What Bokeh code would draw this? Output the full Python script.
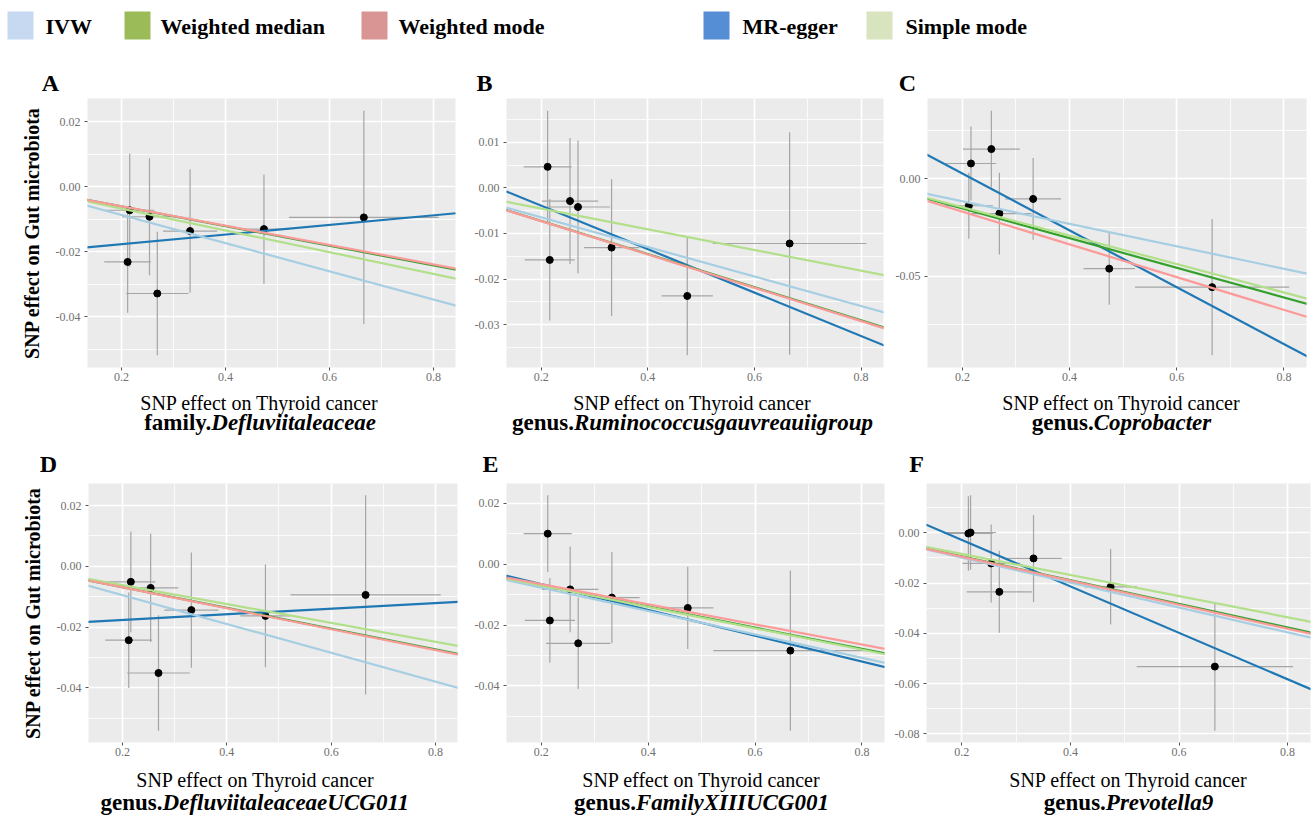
import numpy as np
from bokeh.plotting import figure
from bokeh.models import Range1d, FixedTicker, Slope, PrintfTickFormatter
from bokeh.layouts import column, row
from bokeh.embed import file_html
from bokeh.resources import INLINE
from bokeh.core.properties import value

# ---------------- data ----------------
methods = ["IVW", "Weighted median", "Weighted mode", "MR-egger", "Simple mode"]
legend_colors = ["#c6d9f1", "#9bbb59", "#d99594", "#558ed5", "#d7e4bd"]
line_colors = ["#a6cee3", "#33a02c", "#fb9a99", "#1f78b4", "#b2df8a"]

panel_letters = ["A", "B", "C", "D", "E", "F"]
taxon_rank = ["family.", "genus.", "genus.", "genus.", "genus.", "genus."]
taxon_name = ["Defluviitaleaceae", "Ruminococcusgauvreauiigroup", "Coprobacter",
              "DefluviitaleaceaeUCG011", "FamilyXIIIUCG001", "Prevotella9"]
x_title = "SNP effect on Thyroid cancer"
y_title = "SNP effect on Gut microbiota"

# SNP effects on exposure (shared by all panels)
beta_exp = [0.212, 0.216, 0.254, 0.269, 0.332, 0.474, 0.666]
se_exp = [0.045, 0.047, 0.053, 0.060, 0.052, 0.048, 0.144]

# SNP effects on outcome per panel
beta_out_A = [-0.0231, -0.0072, -0.0092, -0.0328, -0.0136, -0.0130, -0.0094]
se_out_A = [0.0156, 0.0174, 0.0180, 0.0190, 0.0190, 0.0168, 0.0328]
beta_out_B = [0.0046, -0.0158, -0.0029, -0.0042, -0.0131, -0.0237, -0.0122]
se_out_B = [0.0123, 0.0133, 0.0138, 0.0146, 0.0150, 0.0130, 0.0244]
beta_out_C = [-0.0138, 0.0079, 0.0153, -0.0178, -0.0103, -0.0461, -0.0556]
se_out_C = [0.0170, 0.0190, 0.0197, 0.0210, 0.0210, 0.0185, 0.0350]
beta_out_D = [-0.0243, -0.0051, -0.0071, -0.0351, -0.0144, -0.0163, -0.0094]
se_out_D = [0.0157, 0.0166, 0.0178, 0.0190, 0.0190, 0.0169, 0.0328]
beta_out_E = [0.0100, -0.0185, -0.0083, -0.0260, -0.0110, -0.0144, -0.0284]
se_out_E = [0.0126, 0.0139, 0.0141, 0.0150, 0.0150, 0.0135, 0.0263]
beta_out_F = [-0.0003, 0.0001, -0.0122, -0.0235, -0.0102, -0.0215, -0.0532]
se_out_F = [0.0148, 0.0148, 0.0155, 0.0163, 0.0173, 0.0150, 0.0255]

# MR slopes per panel, order = methods (IVW, WM, Wmode, Egger, SM)
slopes_A = [-0.0433, -0.0302, -0.0298, 0.0148, -0.0335]
slopes_B = [-0.0324, -0.0363, -0.0365, -0.0476, -0.0227]
slopes_C = [-0.0577, -0.0761, -0.0841, -0.1459, -0.0729]
slopes_D = [-0.0474, -0.0342, -0.0345, 0.0093, -0.0310]
slopes_E = [-0.0385, -0.0348, -0.0330, -0.0424, -0.0351]
slopes_F = [-0.0495, -0.0471, -0.0477, -0.0923, -0.0420]
egger_intercepts = [-0.0206, 0.0056, 0.0319, -0.0195, 0.0019, 0.0156]

x_ticks = [0.2, 0.4, 0.6, 0.8]
x_minor = [0.1, 0.3, 0.5, 0.7, 0.9]

panels_beta = [beta_out_A, beta_out_B, beta_out_C, beta_out_D, beta_out_E, beta_out_F]
panels_se = [se_out_A, se_out_B, se_out_C, se_out_D, se_out_E, se_out_F]
panels_slopes = [slopes_A, slopes_B, slopes_C, slopes_D, slopes_E, slopes_F]

# ---------------- layout ----------------
W = 1312
y_step = [0.02, 0.01, 0.05, 0.02, 0.02, 0.02]
row_top_h = 294      # page y 97 .. 391
row_bot_h = 287      # page y 478 .. 765
panel_w = [465, 425, 422, 465, 425, 422]
panel_border = [(87, 10, 0, 18), (41, 7, 1, 24), (37, 6, 0, 24),
                (88, 8, 0, 20), (41, 6, 5, 20), (36, 2, 2, 23)]

strip_legend = (0, 60)
strip_letters_top = (60, 97)
strip_titles_top = (391, 445)
strip_letters_bot = (445, 478)
strip_titles_bot = (765, 822)

letter_x = [50, 484, 907, 48, 490, 916]
letter_base = [91, 91, 91, 472, 472, 472]
title_cx = [259, 692, 1121, 255, 701, 1128]
title_base = [409.5, 409.5, 409.5, 787, 787, 787]
sub_base = [430, 430, 430, 810, 810, 810]
legend_base = 34

SERIF = "Liberation Serif"
TICKFONT = "Liberation Sans Narrow"
SUB_SIZE = 23
BASE_SHIFT = 0.36   # compensation of the rendered baseline offset (fraction of font size)

bold_w = dict(a=500, b=556, c=444, d=556, e=444, f=333, g=500, h=556, i=278, j=333, k=556,
              l=278, m=833, n=556, o=500, p=556, q=556, r=444, s=389, t=333, u=556, v=500,
              w=722, x=500, y=500, z=444)
bold_w["."] = 250
bi_w = dict(A=667, B=667, C=667, D=722, E=667, F=667, G=722, H=778, I=389, J=500, K=667,
            L=611, M=889, N=722, O=722, P=611, Q=722, R=667, S=556, T=611, U=722, V=667,
            W=889, X=667, Y=611, Z=611, a=500, b=500, c=444, d=500, e=444, f=333, g=500,
            h=556, i=278, j=278, k=500, l=278, m=778, n=556, o=500, p=500, q=500, r=389,
            s=389, t=278, u=556, v=444, w=667, x=500, y=444, z=389)
for dgt in "0123456789":
    bi_w[dgt] = 500


def text_width(s, table, size):
    return sum(table.get(ch, 500) for ch in s) * size / 1000.0


def gy(base, size):
    return base - BASE_SHIFT * size


def strip(y0, y1):
    p = figure(width=W, height=y1 - y0, x_range=Range1d(0, W), y_range=Range1d(y1, y0),
               output_backend="svg", toolbar_location=None, tools="", min_border=0,
               x_axis_location=None, y_axis_location=None)
    p.grid.visible = False
    p.outline_line_color = None
    p.background_fill_color = "white"
    p.border_fill_color = "white"
    return p


def make_panel(i):
    w = panel_w[i]
    h = row_top_h if i < 3 else row_bot_h
    bl, br, bt, bb = panel_border[i]
    bx = np.array(beta_exp)
    sx = np.array(se_exp)
    by = np.array(panels_beta[i])
    sy = np.array(panels_se[i])

    xlo, xhi = (bx - sx).min(), (bx + sx).max()
    ylo, yhi = (by - sy).min(), (by + sy).max()
    xpad, ypad = 0.05 * (xhi - xlo), 0.05 * (yhi - ylo)
    xr = Range1d(xlo - xpad, xhi + xpad)
    yr = Range1d(ylo - ypad, yhi + ypad)

    p = figure(width=w, height=h, x_range=xr, y_range=yr, output_backend="svg",
               toolbar_location=None, tools="",
               min_border_left=bl, min_border_right=br,
               min_border_top=bt, min_border_bottom=bb)
    p.background_fill_color = "#ebebeb"
    p.border_fill_color = "white"
    p.outline_line_color = None

    step = y_step[i]
    k0 = int(np.ceil((ylo - ypad) / step))
    k1 = int(np.floor((yhi + ypad) / step))
    yt = [float(np.round(k * step, 4)) + 0.0 for k in range(k0, k1 + 1)]
    ym = [float(np.round((k + 0.5) * step, 4)) + 0.0 for k in range(k0 - 1, k1 + 1)]
    p.yaxis.ticker = FixedTicker(ticks=yt, minor_ticks=ym)
    p.xaxis.ticker = FixedTicker(ticks=x_ticks, minor_ticks=x_minor)
    p.yaxis.formatter = PrintfTickFormatter(format="%.2f")
    p.xaxis.formatter = PrintfTickFormatter(format="%.1f")

    for g in (p.xgrid[0], p.ygrid[0]):
        g.grid_line_color = "white"
        g.grid_line_width = 1.7
        g.minor_grid_line_color = "white"
        g.minor_grid_line_width = 0.8
    for a in (p.xaxis[0], p.yaxis[0]):
        a.axis_line_color = None
        a.major_tick_line_color = "#555555"
        a.major_tick_in = 0
        a.major_tick_out = 3
        a.minor_tick_line_color = None
        a.major_label_text_font = TICKFONT
        a.major_label_text_font_size = "12px"
        a.major_label_text_color = "#707070"
    p.xaxis[0].major_label_standoff = 1
    p.yaxis[0].major_label_standoff = 3
    if i in (0, 3):
        ya = p.yaxis[0]
        ya.axis_label = y_title
        ya.axis_label_text_font = SERIF
        ya.axis_label_text_font_style = "bold"
        ya.axis_label_text_font_size = "20px"
        ya.axis_label_text_color = "black"
        ya.axis_label_standoff = 10

    # error bars
    p.segment(x0=bx, y0=by - sy, x1=bx, y1=by + sy, line_color="#a5a5a5", line_width=1.2)
    p.segment(x0=bx - sx, y0=by, x1=bx + sx, y1=by, line_color="#a5a5a5", line_width=1.2)
    p.scatter(x=bx, y=by, size=7, color="black")

    # MR lines (Egger has intercept), drawing order like TwoSampleMR
    slopes = panels_slopes[i]
    for m in [3, 1, 0, 4, 2]:
        icpt = egger_intercepts[i] if methods[m] == "MR-egger" else 0.0
        p.add_layout(Slope(gradient=slopes[m], y_intercept=icpt,
                           line_color=line_colors[m], line_width=2.2))
    return p


def add_letters(p, idx):
    p.text(x=[letter_x[i] for i in idx], y=[gy(letter_base[i], 24) for i in idx],
           text=[panel_letters[i] for i in idx], text_font=value(SERIF),
           text_font_style="bold", text_font_size="24px", text_align="center",
           text_baseline="alphabetic", text_color="black")


def add_titles(p, idx):
    p.text(x=[title_cx[i] for i in idx], y=[gy(title_base[i], 20) for i in idx],
           text=[x_title] * len(idx), text_font=value(SERIF), text_font_size="20px",
           text_align="center", text_baseline="alphabetic", text_color="black")
    splits = []
    for i in idx:
        wb = text_width(taxon_rank[i], bold_w, SUB_SIZE)
        wi = text_width(taxon_name[i], bi_w, SUB_SIZE)
        splits.append(title_cx[i] - (wb + wi) / 2.0 + wb)
    ys = [gy(sub_base[i], SUB_SIZE) for i in idx]
    p.text(x=splits, y=ys, text=[taxon_rank[i] for i in idx], text_font=value(SERIF),
           text_font_style="bold", text_font_size=f"{SUB_SIZE}px", text_align="right",
           text_baseline="alphabetic", text_color="black")
    p.text(x=splits, y=ys, text=[taxon_name[i] for i in idx], text_font=value(SERIF),
           text_font_style="bold italic", text_font_size=f"{SUB_SIZE}px", text_align="left",
           text_baseline="alphabetic", text_color="black")


# ---------------- legend ----------------
leg_sq_left = [7, 124, 361, 703, 866]
leg_txt_x = [45, 160, 398, 742, 905]
leg = strip(*strip_legend)
leg.quad(left=leg_sq_left, right=[v + 26 for v in leg_sq_left], top=[11] * 5, bottom=[39] * 5,
         fill_color=legend_colors, line_color=None)
leg.text(x=leg_txt_x, y=[gy(legend_base, 22)] * 5, text=methods, text_font=value(SERIF),
         text_font_style="bold", text_font_size="22px", text_baseline="alphabetic",
         text_color="black")

letters_top = strip(*strip_letters_top)
add_letters(letters_top, [0, 1, 2])
titles_top = strip(*strip_titles_top)
add_titles(titles_top, [0, 1, 2])
letters_bot = strip(*strip_letters_bot)
add_letters(letters_bot, [3, 4, 5])
titles_bot = strip(*strip_titles_bot)
add_titles(titles_bot, [3, 4, 5])

panels = [make_panel(i) for i in range(6)]
layout = column(leg,
                letters_top, row(panels[0], panels[1], panels[2]), titles_top,
                letters_bot, row(panels[3], panels[4], panels[5]), titles_bot)

open("out.html", "w").write(file_html(layout, INLINE))
